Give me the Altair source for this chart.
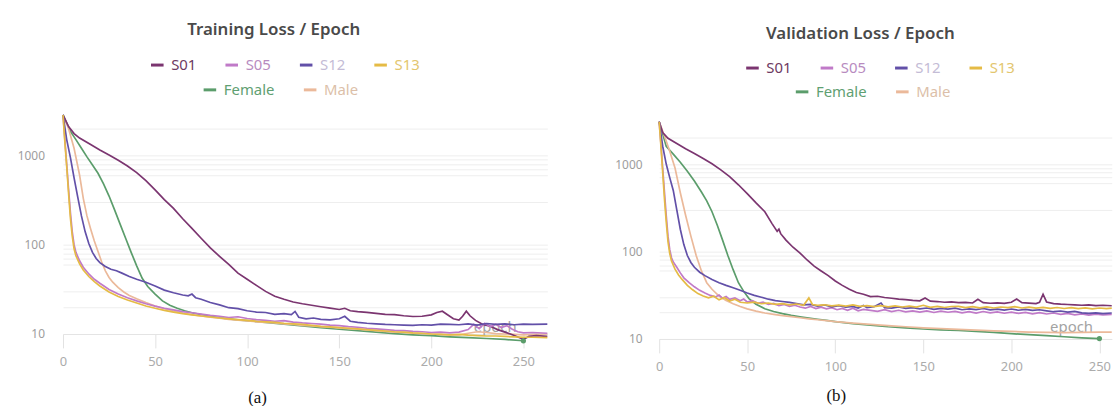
import altair as alt
import pandas as pd

# ---- series (epoch, loss) -------------------------------------------------
subjects = ["S01", "S05", "S12", "S13"]
genders = ["Female", "Male"]
subject_colors = ["#7b3570", "#c07ac8", "#6250a8", "#e5bb45"]
gender_colors = ["#5b9d6b", "#ebb99a"]
subject_label_colors = ["#6e3a62", "#b88bbf", "#c4bcd6", "#e3c66f"]
gender_label_colors = ["#5fa072", "#dcbfa9"]

train_s01 = [(0, 2830), (3, 2100), (6, 1750), (9, 1560), (15, 1320), (20, 1150), (25, 1010),
             (30, 880), (35, 760), (40, 640), (45, 520), (50, 410), (55, 320), (60, 255),
             (65, 195), (70, 152), (75, 118), (80, 92), (85, 74), (90, 60), (95, 48), (100, 41),
             (105, 35), (110, 30), (115, 26.5), (120, 24.5), (125, 22.8), (130, 21.8), (135, 21),
             (140, 20.2), (145, 19.5), (150, 18.8), (153, 19.4), (156, 18.2), (160, 17.8),
             (165, 17.5), (170, 17), (175, 16.6), (180, 16.5), (185, 16), (190, 15.7), (195, 15.8),
             (200, 16.4), (203, 17.4), (206, 18.0), (209, 16.3), (212, 14.8), (215, 14.3),
             (217, 15.8), (219, 18.0), (221, 16.0), (224, 14.2), (228, 12.8), (232, 12.2),
             (236, 11.2), (240, 10.5), (244, 9.8), (248, 9.1), (250, 8.7), (253, 9.4), (257, 9.6),
             (263, 9.4)]
train_s05 = [(0, 2830), (1, 1500), (2, 800), (3, 420), (4, 230), (5, 140), (6, 100), (7, 82),
             (9, 66), (11, 56), (14, 47), (17, 41), (20, 37), (25, 31.5), (30, 28), (35, 25.5),
             (40, 23.5), (45, 21.8), (50, 20.5), (55, 19.4), (60, 18.6), (65, 17.8), (70, 17.3),
             (75, 16.7), (80, 16.2), (85, 15.8), (90, 15.3), (95, 15.6), (100, 14.9), (105, 14.5),
             (110, 14.2), (115, 13.9), (120, 14.1), (125, 13.6), (130, 13.3), (135, 13.1),
             (140, 12.9), (145, 12.6), (150, 12.4), (155, 12.1), (160, 11.9), (165, 11.6),
             (170, 11.4), (175, 11.2), (180, 11.0), (185, 10.9), (190, 10.7), (195, 10.6),
             (200, 10.4), (205, 10.5), (210, 10.3), (215, 10.5), (220, 11.2), (223, 12.8),
             (226, 11.5), (229, 13.2), (232, 12.1), (235, 12.9), (238, 11.8), (241, 12.4),
             (244, 11.3), (247, 10.6), (250, 10.3), (255, 10.4), (263, 10.2)]
train_s12 = [(0, 2830), (2, 1500), (4, 950), (6, 560), (8, 340), (10, 210), (12, 140), (14, 103),
             (16, 82), (18, 70), (20, 63), (23, 57), (26, 53), (29, 51), (32, 48), (36, 44),
             (40, 41), (45, 38), (50, 34.5), (55, 31), (60, 29), (65, 27.3), (68, 26.8), (70, 28),
             (72, 25.5), (75, 24.5), (80, 22.5), (85, 21.2), (90, 19.7), (95, 19.2), (100, 18.2),
             (105, 17.6), (110, 17.4), (115, 16.6), (120, 16.9), (124, 16.5), (126, 17.9),
             (128, 15.4), (132, 14.8), (136, 15.1), (140, 14.6), (145, 14.4), (150, 14.8),
             (153, 15.8), (156, 13.9), (160, 13.5), (165, 13.2), (170, 13.0), (175, 12.8),
             (180, 12.7), (185, 12.6), (190, 12.5), (195, 12.7), (200, 12.6), (205, 12.9),
             (210, 12.8), (215, 12.7), (220, 13.0), (225, 12.6), (230, 13.1), (235, 12.8),
             (240, 13.0), (245, 12.7), (250, 12.9), (255, 12.8), (263, 12.9)]
train_s13 = [(0, 2830), (1, 1400), (2, 750), (3, 380), (4, 200), (5, 125), (6, 90), (7, 75),
             (9, 61), (11, 52), (14, 44), (17, 38.5), (20, 34.5), (25, 29.5), (30, 26.3), (35, 24),
             (40, 22.2), (45, 20.6), (50, 19.4), (55, 18.4), (60, 17.6), (65, 16.9), (70, 16.4),
             (75, 15.9), (80, 15.5), (85, 15.1), (90, 14.8), (95, 14.5), (100, 14.2), (105, 13.9),
             (110, 13.7), (115, 13.5), (120, 13.2), (125, 13.0), (130, 12.8), (135, 12.5),
             (140, 12.2), (145, 12.0), (150, 11.8), (155, 11.6), (160, 11.4), (165, 11.2),
             (170, 11.0), (175, 10.8), (180, 10.6), (185, 10.5), (190, 10.3), (195, 10.2),
             (200, 10.0), (205, 9.9), (210, 9.8), (215, 9.9), (220, 9.7), (225, 9.6), (230, 9.5),
             (235, 9.5), (240, 9.4), (245, 9.3), (250, 9.2), (255, 9.2), (263, 9.1)]
train_female = [(0, 2830), (2, 2300), (4, 1850), (7, 1500), (10, 1200), (13, 960), (16, 780),
                (19, 630), (22, 480), (25, 350), (28, 245), (31, 170), (34, 118), (37, 82),
                (40, 58), (43, 42), (46, 34), (50, 28), (54, 23.5), (58, 21), (62, 19.4),
                (66, 18.2), (70, 17.3), (75, 16.5), (80, 15.8), (85, 15.2), (90, 14.8), (95, 14.4),
                (100, 14.1), (110, 13.5), (120, 12.9), (130, 12.3), (140, 11.8), (150, 11.3),
                (160, 10.9), (170, 10.5), (180, 10.1), (190, 9.8), (200, 9.6), (210, 9.3),
                (220, 9.1), (230, 8.9), (240, 8.7), (250, 8.4)]
train_male = [(0, 2830), (3, 2000), (6, 1200), (9, 600), (11, 330), (13, 210), (15, 150),
              (17, 110), (19, 84), (21, 64), (23, 51), (25, 43), (27, 38), (30, 33), (33, 29.5),
              (36, 27), (40, 24.8), (45, 22.5), (50, 20.6), (55, 19.2), (60, 18.1), (65, 17.2),
              (70, 16.5), (75, 15.9), (80, 15.4), (85, 15.0), (90, 14.6), (95, 14.3), (100, 14.0),
              (105, 13.7), (110, 13.5), (115, 13.3), (120, 13.0), (125, 12.8), (130, 12.5),
              (135, 12.3), (140, 12.1), (145, 11.9), (150, 11.7), (155, 11.5), (160, 11.3),
              (165, 11.1), (170, 10.9), (175, 10.7), (180, 10.5), (185, 10.4), (190, 10.2),
              (195, 10.1), (200, 10.0), (205, 9.9), (210, 9.8), (215, 9.8), (220, 10.2),
              (225, 10.6), (230, 10.4), (235, 10.1), (240, 10.0), (245, 9.9), (250, 9.8),
              (255, 9.9), (263, 10.0)]

val_s01 = [(0, 3050), (2, 2300), (5, 1970), (10, 1720), (15, 1500), (20, 1320), (25, 1160),
           (30, 1010), (35, 860), (40, 720), (45, 580), (50, 460), (55, 360), (60, 285), (64, 210),
           (67, 170), (68, 180), (69, 160), (72, 135), (76, 112), (80, 96), (84, 80), (88, 68),
           (92, 60), (96, 53), (100, 46), (104, 41), (108, 37), (112, 34), (116, 32.5),
           (120, 30.5), (124, 30.8), (128, 29.8), (132, 29.2), (136, 28.5), (140, 28.2),
           (144, 27.6), (148, 27.3), (151, 29.4), (154, 27.1), (158, 26.8), (162, 26.3),
           (166, 26.6), (170, 26.0), (174, 26.2), (178, 25.8), (181, 28.4), (184, 26.0),
           (188, 25.6), (192, 25.9), (196, 25.5), (200, 26.3), (203, 28.6), (206, 26.0),
           (210, 25.7), (214, 25.4), (216, 26.2), (218, 32.5), (220, 26.5), (224, 25.4),
           (228, 25.0), (232, 24.8), (236, 24.5), (240, 24.3), (244, 24.5), (248, 24.1),
           (252, 24.3), (257, 24.0)]
val_s05 = [(0, 3050), (1, 1700), (2, 900), (3, 480), (4, 260), (5, 150), (6, 105), (7, 85),
           (8, 76), (10, 66), (12, 57), (14, 50), (17, 44), (20, 39.5), (23, 36), (26, 33.5),
           (29, 31.5), (32, 30.3), (34, 31.8), (36, 29.2), (38, 30.6), (40, 28.4), (43, 29.5),
           (46, 27.3), (48, 28.6), (50, 26.5), (53, 27.4), (56, 25.6), (59, 26.3), (62, 24.8),
           (65, 25.5), (68, 24.1), (71, 24.8), (74, 23.6), (77, 24.3), (80, 23.2), (83, 22.5),
           (86, 23.6), (89, 22.3), (92, 23.1), (95, 22.1), (98, 22.8), (101, 21.6), (104, 22.4),
           (107, 21.3), (110, 22.5), (113, 21.0), (116, 21.8), (120, 21.2), (124, 20.7),
           (128, 21.6), (132, 20.6), (136, 21.3), (140, 20.4), (144, 21.0), (148, 20.3),
           (152, 20.9), (156, 20.1), (160, 20.8), (164, 20.2), (168, 20.7), (172, 19.9),
           (176, 20.5), (180, 19.8), (184, 20.6), (188, 19.9), (192, 20.4), (196, 19.7),
           (200, 20.3), (204, 19.6), (208, 20.1), (212, 19.4), (216, 20.0), (220, 19.3),
           (224, 19.8), (228, 19.1), (232, 19.6), (236, 18.9), (240, 19.4), (244, 18.7),
           (248, 19.2), (252, 18.8), (257, 19.1)]
val_s12 = [(0, 3050), (2, 1600), (4, 1000), (6, 700), (8, 500), (10, 300), (12, 180), (14, 120),
           (16, 90), (18, 75), (20, 66), (23, 58), (26, 53), (30, 48), (34, 44), (38, 41),
           (42, 38.5), (46, 36), (50, 33.5), (54, 31.5), (58, 30), (62, 28.5), (66, 27.5),
           (70, 26.8), (74, 26.2), (78, 25.4), (82, 24.6), (86, 24.9), (90, 23.8), (94, 24.5),
           (98, 23.3), (102, 24.0), (106, 23.1), (110, 23.6), (113, 22.6), (116, 24.2),
           (118, 22.9), (122, 23.4), (126, 25.8), (128, 22.8), (132, 22.5), (136, 23.3),
           (140, 22.4), (144, 22.8), (148, 22.1), (152, 22.6), (156, 21.8), (160, 22.4),
           (164, 21.9), (168, 22.5), (172, 21.6), (176, 22.1), (180, 21.7), (184, 22.3),
           (188, 21.5), (192, 21.9), (196, 21.4), (200, 22.0), (204, 21.3), (208, 21.8),
           (212, 21.2), (216, 21.6), (220, 21.0), (224, 20.5), (228, 20.9), (232, 20.3),
           (236, 20.7), (240, 19.9), (244, 19.6), (248, 19.9), (252, 19.5), (257, 19.8)]
val_s13 = [(0, 3050), (1, 1600), (2, 800), (3, 400), (4, 220), (5, 130), (6, 95), (7, 78),
           (9, 63), (11, 54), (13, 48), (16, 41), (19, 36.5), (22, 33), (25, 31), (28, 29.5),
           (31, 30.8), (34, 28.0), (37, 29.8), (40, 27.2), (43, 28.5), (46, 26.3), (50, 25.8),
           (54, 26.4), (58, 25.3), (62, 25.8), (66, 24.9), (70, 25.4), (74, 24.6), (78, 25.1),
           (82, 24.3), (85, 29.5), (87, 24.8), (90, 24.2), (94, 24.6), (98, 23.9), (102, 24.4),
           (106, 23.7), (110, 24.5), (114, 23.6), (118, 24.1), (122, 23.4), (126, 24.0),
           (130, 23.3), (134, 23.9), (138, 23.2), (142, 23.8), (146, 23.1), (150, 24.3),
           (154, 23.0), (158, 23.6), (162, 22.9), (166, 23.5), (170, 23.6), (174, 22.8),
           (178, 23.4), (182, 22.7), (186, 23.3), (190, 22.6), (194, 23.2), (198, 22.8),
           (202, 23.4), (206, 22.6), (210, 23.1), (214, 22.5), (218, 23.0), (222, 22.4),
           (226, 22.9), (230, 22.3), (234, 22.8), (238, 22.2), (242, 22.7), (246, 22.1),
           (250, 22.6), (254, 22.2), (257, 22.5)]
val_female = [(0, 3050), (2, 2200), (4, 1600), (8, 1300), (12, 1050), (16, 830), (20, 640),
              (24, 480), (27, 380), (30, 285), (33, 200), (36, 135), (39, 90), (42, 62), (45, 44),
              (48, 35), (51, 29), (55, 25), (60, 22.2), (65, 20.6), (70, 19.5), (75, 18.6),
              (80, 17.9), (85, 17.3), (90, 16.8), (95, 16.3), (100, 15.8), (110, 15.0),
              (120, 14.4), (130, 13.8), (140, 13.4), (150, 13.0), (160, 12.7), (170, 12.5),
              (180, 12.2), (190, 11.9), (200, 11.5), (210, 11.2), (220, 10.9), (230, 10.6),
              (240, 10.3), (250, 10.1)]
val_male = [(0, 3050), (3, 2100), (6, 1400), (9, 900), (12, 470), (15, 260), (18, 150), (21, 90),
            (24, 60), (27, 44), (30, 37), (34, 31), (38, 27.5), (42, 25.3), (46, 23.5), (50, 22.1),
            (55, 20.8), (60, 19.8), (65, 19.1), (70, 18.5), (75, 18.0), (80, 17.5), (85, 17.0),
            (90, 16.6), (95, 16.2), (100, 15.8), (110, 15.2), (120, 14.7), (130, 14.2),
            (140, 13.8), (150, 13.4), (160, 13.1), (170, 12.9), (180, 12.6), (190, 12.4),
            (200, 12.2), (210, 12.0), (220, 11.9), (230, 11.8), (240, 11.9), (250, 12.0),
            (257, 12.0)]

x_ticks = [0, 50, 100, 150, 200, 250]
y_grid = [10, 20, 30, 60, 70, 80, 90, 100, 300, 600, 700, 800, 900, 1000, 2000]
y_labelled = [10, 100, 1000]

FONT = "Noto Sans"


def long_table(names, series):
    rows = []
    for name, pts in zip(names, series):
        for epoch, loss in pts:
            rows.append({"run": name, "epoch": epoch, "loss": loss})
    return pd.DataFrame(rows)


def color_expr(names, colors):
    parts = [f"datum.label === '{n}' ? '{c}'" for n, c in zip(names, colors)]
    return " : ".join(parts) + " : '#999999'"


def legend(names, label_colors, lx, ly):
    return alt.Legend(
        title=None, orient="none", legendX=lx, legendY=ly, direction="horizontal",
        symbolType="stroke", symbolStrokeWidth=3, symbolSize=160,
        labelFont=FONT, labelFontSize=15, labelOffset=6, columnPadding=22,
        labelColor={"expr": color_expr(names, label_colors)}, padding=0,
    )


def panel(title, subj_series, gen_series, x_max, y_max, width, height, label_pad,
          title_dx, title_offset, row1, row2, epoch_xy):
    subj_df = long_table(subjects, subj_series)
    gen_df = long_table(genders, gen_series)
    last = gen_series[0][-1]
    dot_df = pd.DataFrame([{"epoch": last[0], "loss": last[1]}])

    x = alt.X(
        "epoch:Q",
        scale=alt.Scale(domain=[0, x_max], nice=False, zero=False),
        axis=alt.Axis(
            values=x_ticks, title="epoch", titleX=epoch_xy[0], titleY=epoch_xy[1],
            titleAlign="center", titleBaseline="middle", titleColor="#a3a3a3",
            titleFont=FONT, titleFontSize=15, titleFontWeight="normal",
            labelFont=FONT, labelFontSize=13, labelColor="#ababab", labelFlush=False,
            labelPadding=8, ticks=True, tickSize=14, tickColor="#e2e2e2",
            domainColor="#e4e4e4", grid=False, zindex=0,
        ),
    )
    y = alt.Y(
        "loss:Q",
        scale=alt.Scale(type="log", domain=[10, y_max], nice=False),
        axis=alt.Axis(
            values=y_grid, title=None, grid=True, gridColor="#eeeeee", ticks=False,
            domain=False, labelFont=FONT, labelFontSize=12, labelColor="#9d9d9d",
            labelPadding=label_pad, zindex=0,
            labelExpr="indexof(" + str(y_labelled) + ", datum.value) >= 0 ? format(datum.value, 'd') : ''",
        ),
    )

    gen = alt.Chart(gen_df).mark_line(strokeWidth=1.7).encode(
        x=x, y=y,
        color=alt.Color("run:N", scale=alt.Scale(domain=genders, range=gender_colors),
                        legend=legend(genders, gender_label_colors, *row2)),
    )
    subj = alt.Chart(subj_df).mark_line(strokeWidth=1.7).encode(
        x=x, y=y,
        color=alt.Color("run:N", scale=alt.Scale(domain=subjects, range=subject_colors),
                        legend=legend(subjects, subject_label_colors, *row1)),
    )
    dot = alt.Chart(dot_df).mark_circle(size=28, opacity=1).encode(
        x=x, y=y, color=alt.value(gender_colors[0])
    )
    return alt.layer(gen, subj, dot).resolve_scale(color="independent").properties(
        width=width, height=height,
        title=alt.TitleParams(
            title, anchor="middle", frame="group", dx=title_dx, offset=title_offset,
            font=FONT, fontSize=17, fontWeight=600, color="#4a4a4a",
        ),
    )


# the title offset is measured from the top of the legends
train = panel("Training Loss / Epoch",
              [train_s01, train_s05, train_s12, train_s13], [train_female, train_male],
              263, 3000, 488, 223, 18.7, -31.7, 18.5, (87, -56), (140, -31), (435, -7.5))
valid = panel("Validation Loss / Epoch",
              [val_s01, val_s05, val_s12, val_s13], [val_female, val_male],
              257, 3870, 456, 228, 17.3, -25.3, 17.7, (86, -53), (136, -29), (415, -12.7))


def captioned(chart, caption, dx, offset):
    return alt.vconcat(chart, title=alt.TitleParams(
        caption, orient="bottom", anchor="middle", frame="bounds", dx=dx, offset=offset,
        font="Liberation Serif", fontSize=17, fontWeight="normal", color="#111111",
    )).resolve_scale(color="independent")


chart = alt.hconcat(
    captioned(train, "(a)", -26.6, 22), captioned(valid, "(b)", -28.9, 15), spacing=63.7
).resolve_scale(color="independent").properties(
    padding={"left": 16.5, "top": 19, "right": 0, "bottom": 0},
    background="white",
).configure_view(stroke=None)

chart.save("out.html", embed_options={"renderer": "svg", "actions": False})
